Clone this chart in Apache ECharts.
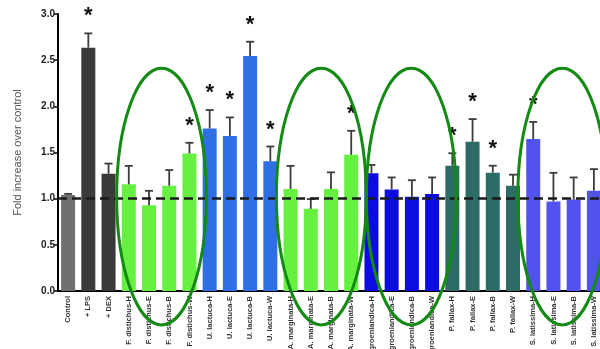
<!DOCTYPE html>
<html>
<head>
<meta charset="utf-8">
<script src="https://cdn.jsdelivr.net/npm/echarts@6/dist/echarts.min.js"></script>
<style>html,body{margin:0;padding:0;background:#fff;}#c{width:600px;height:349px;}</style>
</head>
<body>
<div id="c"></div>
<script>
const categories = ['Control','+ LPS','+ DEX',
  'F. distichus-H','F. distichus-E','F. distichus-B','F. distichus-W',
  'U. lactuca-H','U. lactuca-E','U. lactuca-B','U. lactuca-W',
  'A. marginata-H','A. marginata-E','A. marginata-B','A. marginata-W',
  'groenlandica-H','groenlandica-E','groenlandica-B','groenlandica-W',
  'P. fallax-H','P. fallax-E','P. fallax-B','P. fallax-W',
  'S. latissima-H','S. latissima-E','S. latissima-B','S. latissima-W'];
const values = [1.04, 2.635, 1.27,
  1.155, 0.93, 1.14, 1.49,
  1.76, 1.68, 2.545, 1.405,
  1.105, 0.89, 1.105, 1.475,
  1.275, 1.10, 1.02, 1.05,
  1.357, 1.617, 1.281, 1.14,
  1.646, 0.97, 0.99, 1.085];
const errors = [0.012, 0.155, 0.11,
  0.2, 0.155, 0.17, 0.115,
  0.2, 0.2, 0.155, 0.16,
  0.25, 0.105, 0.18, 0.26,
  0.09, 0.13, 0.18, 0.18,
  0.135, 0.245, 0.076, 0.12,
  0.185, 0.31, 0.24, 0.235];
const significant = [0,1,0, 0,0,0,1, 1,1,1,1, 0,0,0,1, 0,0,0,0, 1,1,1,0, 1,0,0,0];
const groupColors = ['#707070','#3a3a3a','#3a3a3a',
  '#66f040','#66f040','#66f040','#66f040',
  '#2f6fe6','#2f6fe6','#2f6fe6','#2f6fe6',
  '#66f040','#66f040','#66f040','#66f040',
  '#0c0ce0','#0c0ce0','#0c0ce0','#0c0ce0',
  '#2d6b66','#2d6b66','#2d6b66','#2d6b66',
  '#5252ee','#5252ee','#5252ee','#5252ee'];
const yTicks = [0, 0.5, 1, 1.5, 2, 2.5, 3];
// ellipse annotations: centre (category index units), half-width (bands), vertical centre & half-height (value units)
const ellipses = [[4.62, 2.22, 1.023, 1.39],[12.52, 2.22, 1.023, 1.39],[16.97, 2.22, 1.023, 1.39],[24.44, 2.2, 1.023, 1.39]];

const chart = echarts.init(document.getElementById('c'), null, {renderer:'canvas'});
const barData = values.map((v,i)=>({value:v, itemStyle:{color:groupColors[i]}}));
const errData = values.map((v,i)=>[i, v, errors[i], significant[i]]);

chart.setOption({
  animation:false,
  grid:{left:58, right:-4, top:14, bottom:58, containLabel:false, outerBoundsMode:'none'},
  xAxis:{type:'category', data:categories,
    axisLine:{lineStyle:{color:'#000', width:2}},
    axisTick:{show:false},
    axisLabel:{rotate:90, interval:0, fontSize:7.5, fontWeight:'bold', color:'#333', fontFamily:'Liberation Sans, Arial', margin:5}
  },
  yAxis:{type:'value', min:0, max:3, interval:0.5,
    name:'Fold increase over control', nameLocation:'middle', nameGap:35,
    nameTextStyle:{fontSize:11, color:'#555', fontFamily:'Liberation Sans, Arial'},
    axisLine:{show:true, lineStyle:{color:'#000', width:2}},
    axisTick:{show:true, length:4, lineStyle:{color:'#000', width:1.5}},
    splitLine:{show:false},
    axisLabel:{fontSize:10, fontWeight:'bold', color:'#222', margin:3, fontFamily:'Liberation Sans, Arial',
      formatter:v=>v.toFixed(1)}
  },
  series:[
    {type:'bar', data:barData, barWidth:14, z:2,
      markLine:{silent:true, symbol:['none','none'], label:{show:false},
        data:[{yAxis:1}], lineStyle:{color:'#1a1a1a', type:[9,5], width:2.5}}
    },
    {type:'custom', data:errData, z:3,
      renderItem:function(params, api){
        const i = api.value(0), v = api.value(1), e = api.value(2), s = api.value(3);
        const top = api.coord([i, v+e]);
        const base = api.coord([i, v]);
        const ch = [
          {type:'line', shape:{x1:top[0], y1:base[1], x2:top[0], y2:top[1]}, style:{stroke:'#3c3c3c', lineWidth:1.8}},
          {type:'line', shape:{x1:top[0]-4, y1:top[1], x2:top[0]+4, y2:top[1]}, style:{stroke:'#3c3c3c', lineWidth:1.8}}
        ];
        if (s) ch.push({type:'text', x:top[0], y:top[1]-17, style:{text:'*', fontSize:22, fontWeight:'bold', align:'center', verticalAlign:'middle', fill:'#111', fontFamily:'Liberation Sans, Arial'}});
        return {type:'group', children:ch};
      }
    }
  ]
});

const p0 = chart.convertToPixel({xAxisIndex:0}, 0);
const p1 = chart.convertToPixel({xAxisIndex:0}, 1);
const band = p1 - p0;
const y0 = chart.convertToPixel({yAxisIndex:0}, 0);
const y1 = chart.convertToPixel({yAxisIndex:0}, 1);
const unit = y0 - y1;
chart.setOption({
  graphic: ellipses.map(e=>({type:'ellipse', z:100,
    shape:{cx:p0 + e[0]*band, cy:y0 - e[2]*unit, rx:e[1]*band, ry:e[3]*unit},
    style:{fill:'none', stroke:'#138a13', lineWidth:3}}))
});
</script>
</body>
</html>
